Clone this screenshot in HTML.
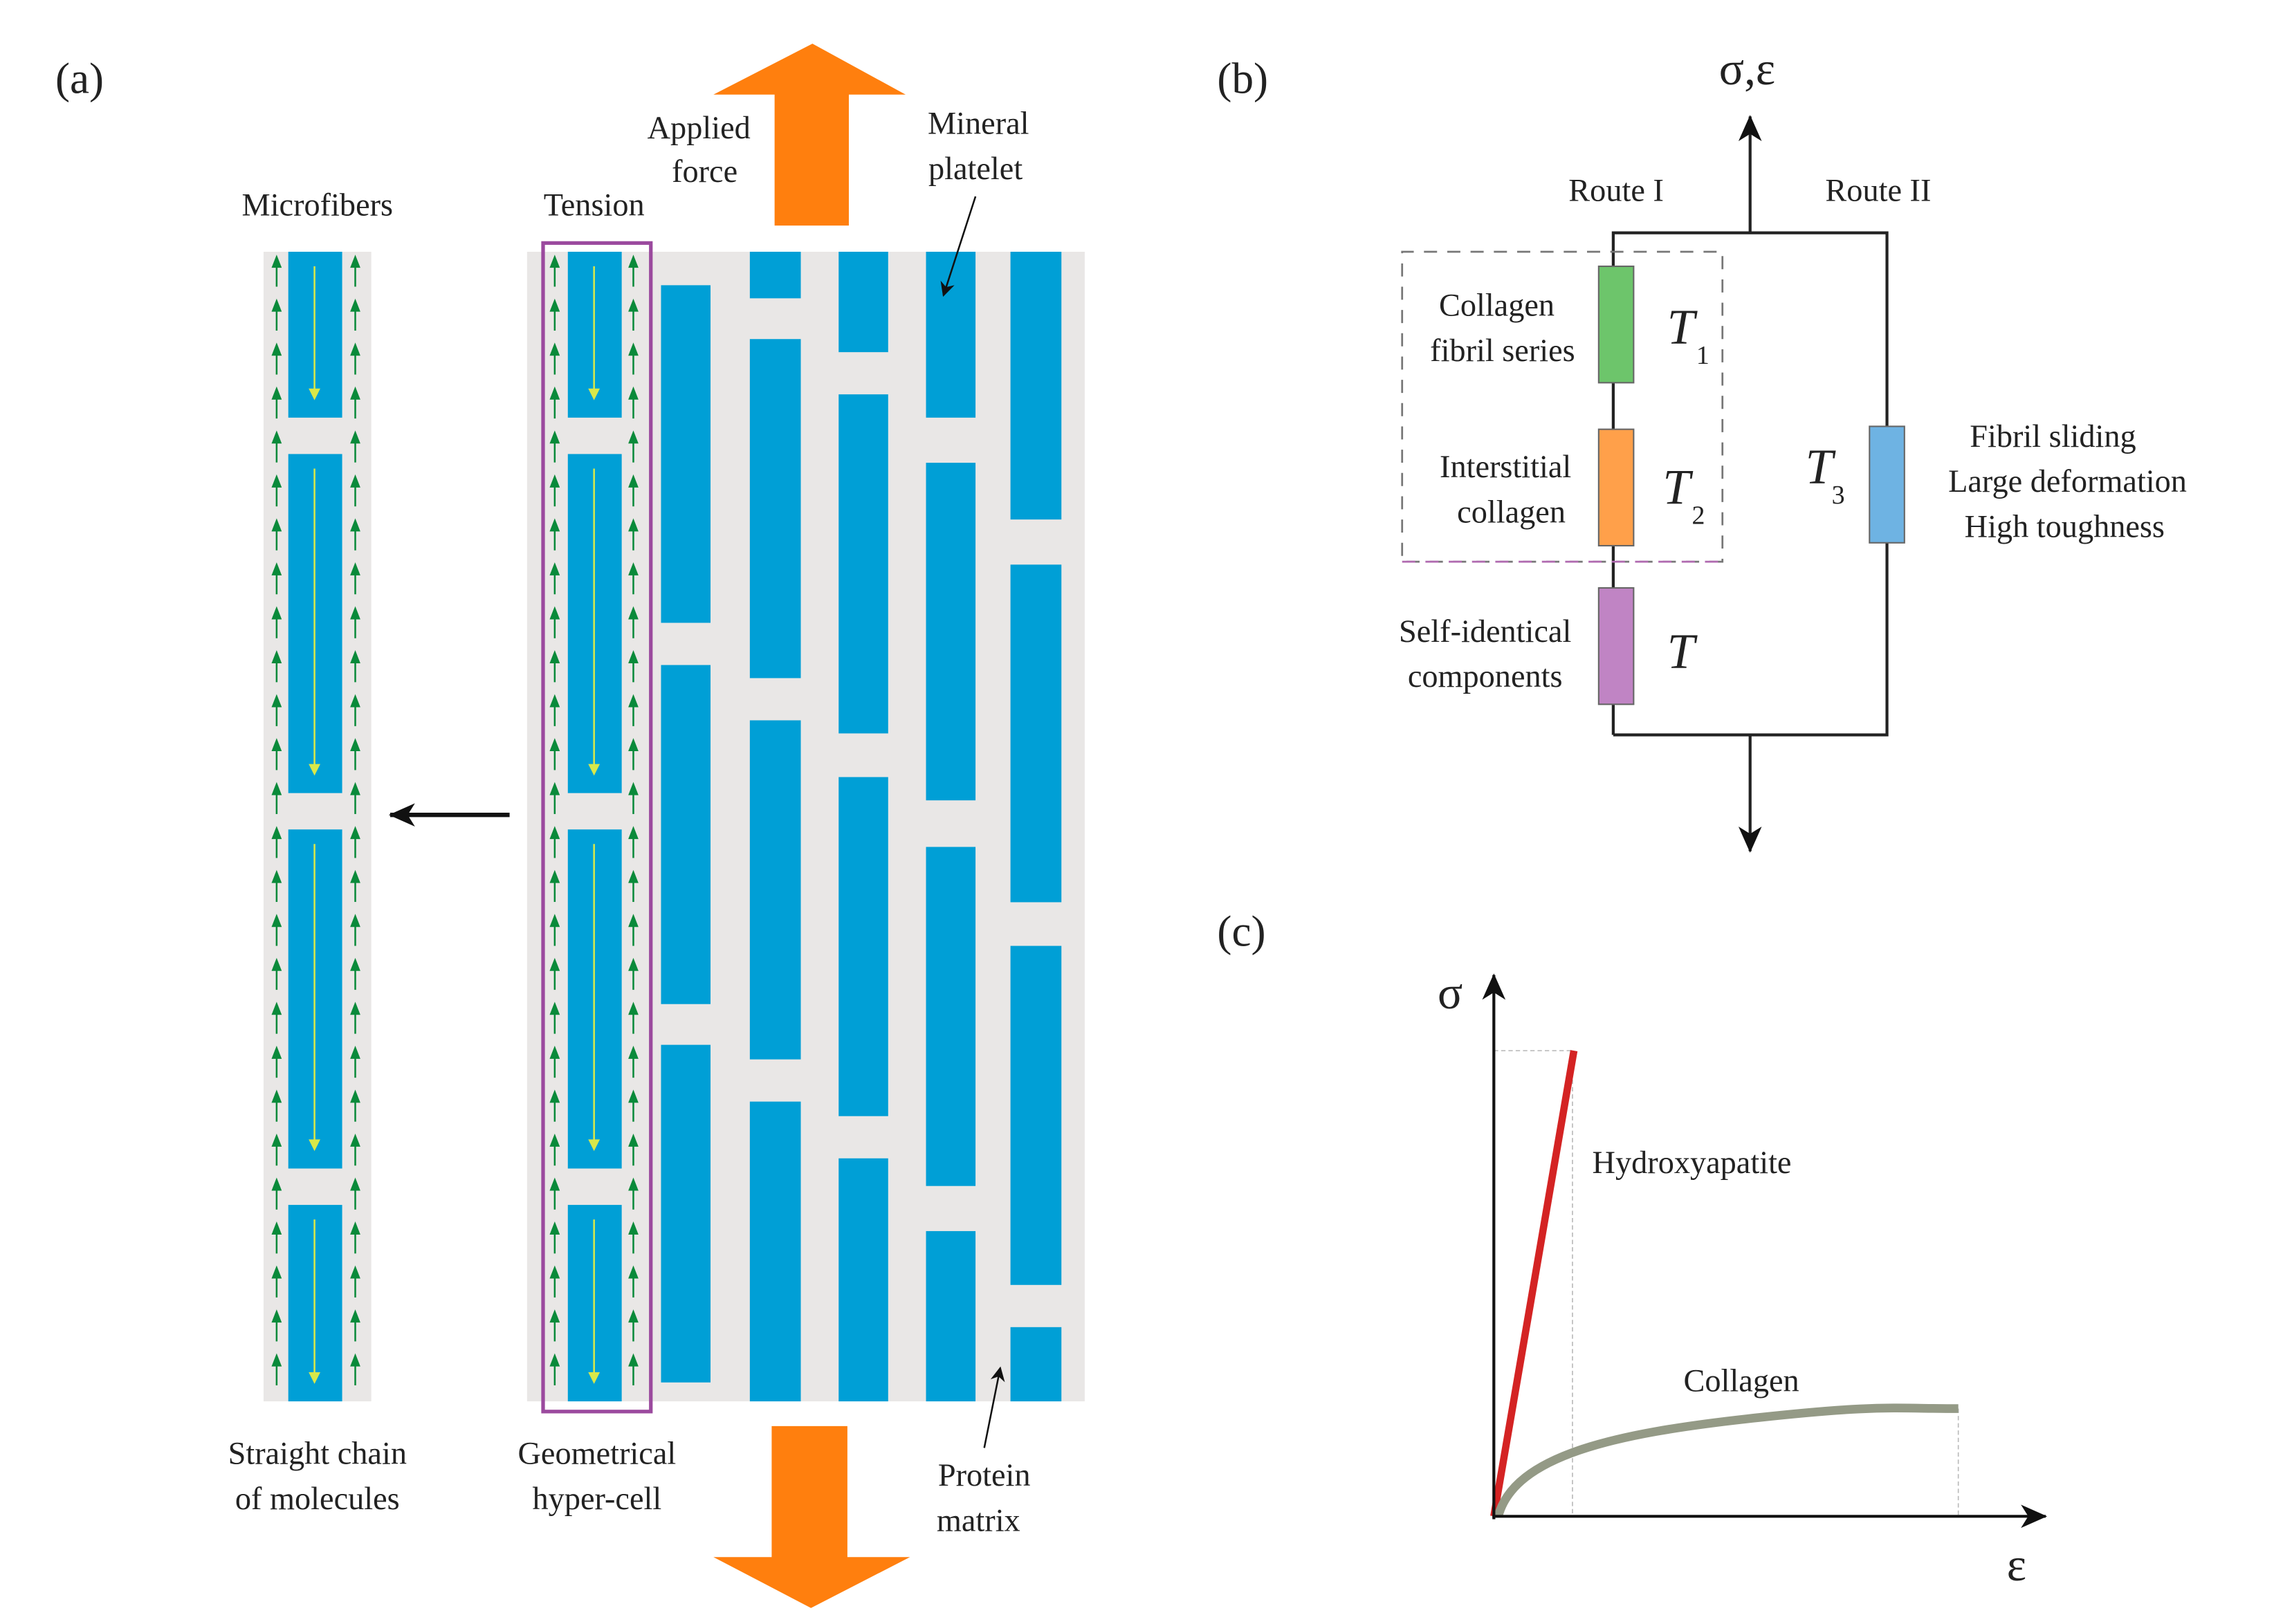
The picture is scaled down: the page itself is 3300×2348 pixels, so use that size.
<!DOCTYPE html>
<html><head><meta charset="utf-8"><style>
html,body{margin:0;padding:0;background:#fff;}
svg{display:block;}
text{font-family:"Liberation Serif","DejaVu Serif","Times New Roman",serif;fill:#222;}
</style></head><body>
<svg id="s" width="3300" height="2348" viewBox="0 0 1568 1116" preserveAspectRatio="none" xmlns="http://www.w3.org/2000/svg" font-family="Liberation Serif, DejaVu Serif, serif">
<defs>
<marker id="ka" markerWidth="10" markerHeight="10" refX="9" refY="5" orient="auto" markerUnits="userSpaceOnUse"><path d="M0,0 L10,5 L0,10 L3,5 z" fill="#111"/></marker>
<marker id="kb" markerWidth="18" markerHeight="16" refX="17" refY="8" orient="auto" markerUnits="userSpaceOnUse"><path d="M0,0 L18,8 L0,16 L5,8 z" fill="#111"/></marker>
</defs>
<rect width="1568" height="1116" fill="#fff"/>
<text x="38" y="64" font-size="30">(a)</text>
<text x="836" y="64" font-size="30">(b)</text>
<text x="836" y="650" font-size="30">(c)</text>

<rect x="181" y="173" width="74" height="790" fill="#e9e7e6"/>
<g fill="#009fd6">
<rect x="198" y="173" width="37" height="114"/><rect x="198" y="312" width="37" height="233"/>
<rect x="198" y="570" width="37" height="233"/><rect x="198" y="828" width="37" height="135"/>
</g>
<rect x="362" y="173" width="383" height="790" fill="#e9e7e6"/>
<g fill="#009fd6">
<rect x="390" y="173" width="37" height="114"/><rect x="390" y="312" width="37" height="233"/>
<rect x="390" y="570" width="37" height="233"/><rect x="390" y="828" width="37" height="135"/>
<rect x="454" y="196" width="34" height="232"/><rect x="454" y="457" width="34" height="233"/><rect x="454" y="718" width="34" height="232"/>
<rect x="515" y="173" width="35" height="32"/><rect x="515" y="233" width="35" height="233"/><rect x="515" y="495" width="35" height="233"/><rect x="515" y="757" width="35" height="206"/>
<rect x="576" y="173" width="34" height="69"/><rect x="576" y="271" width="34" height="233"/><rect x="576" y="534" width="34" height="233"/><rect x="576" y="796" width="34" height="167"/>
<rect x="636" y="173" width="34" height="114"/><rect x="636" y="318" width="34" height="232"/><rect x="636" y="582" width="34" height="233"/><rect x="636" y="846" width="34" height="117"/>
<rect x="694" y="173" width="35" height="184"/><rect x="694" y="388" width="35" height="232"/><rect x="694" y="650" width="35" height="233"/><rect x="694" y="912" width="35" height="51"/>
</g>
<rect x="373" y="167" width="74" height="803" fill="none" stroke="#9b4a9e" stroke-width="2.5"/>
<g id="arrows"></g>

<path d="M532,155 L532,65 L490,65 L558,30 L622,65 L583,65 L583,155 Z" fill="#ff7f0e"/>
<path d="M530,980 L582,980 L582,1070 L625,1070 L557,1105 L490,1070 L530,1070 Z" fill="#ff7f0e"/>

<g font-size="22" text-anchor="middle">
<text x="480" y="95">Applied</text><text x="484" y="125">force</text>
<text x="672" y="92">Mineral</text><text x="670" y="123">platelet</text>
<text x="218" y="148">Microfibers</text><text x="408" y="148">Tension</text>
<text x="218" y="1006">Straight chain</text><text x="218" y="1037">of molecules</text>
<text x="410" y="1006">Geometrical</text><text x="410" y="1037">hyper-cell</text>
<text x="676" y="1021">Protein</text><text x="672" y="1052">matrix</text>
</g>
<line x1="670" y1="135" x2="648" y2="203" stroke="#111" stroke-width="1.2" marker-end="url(#ka)"/>
<line x1="676" y1="995" x2="687" y2="940" stroke="#111" stroke-width="1.2" marker-end="url(#ka)"/>
<line x1="350" y1="560" x2="268" y2="560" stroke="#111" stroke-width="3" marker-end="url(#kb)"/>

<text x="1200" y="58" font-size="32" text-anchor="middle">σ,ε</text>
<g stroke="#222" stroke-width="2" fill="none">
<line x1="1202" y1="160" x2="1202" y2="80" marker-end="url(#kb)"/>
<polyline points="1108,505 1108,160 1296,160 1296,505 1108,505"/>
<line x1="1202" y1="505" x2="1202" y2="585" marker-end="url(#kb)"/>
</g>
<text x="1110" y="138" font-size="22" text-anchor="middle">Route I</text>
<text x="1290" y="138" font-size="22" text-anchor="middle">Route II</text>
<path d="M1183,386 L963,386 L963,173 L1183,173 Z" fill="none" stroke="#777" stroke-width="1.3" stroke-dasharray="9,7"/>
<line x1="963" y1="386" x2="1183" y2="386" stroke="#b06ab0" stroke-width="1.3" stroke-dasharray="9,7"/>
<g stroke="#666" stroke-width="1">
<rect x="1098" y="183" width="24" height="80" fill="#6dc56b"/>
<rect x="1098" y="295" width="24" height="80" fill="#ffa04a"/>
<rect x="1098" y="404" width="24" height="80" fill="#c084c4"/>
<rect x="1284" y="293" width="24" height="80" fill="#6eb3e3"/>
</g>
<g font-size="22" text-anchor="middle">
<text x="1028" y="217">Collagen</text><text x="1032" y="248">fibril series</text>
<text x="1034" y="328">Interstitial</text><text x="1038" y="359">collagen</text>
<text x="1020" y="441">Self-identical</text><text x="1020" y="472">components</text>
<text x="1410" y="307">Fibril sliding</text><text x="1420" y="338">Large deformation</text><text x="1418" y="369">High toughness</text>
</g>
<g font-size="34" font-style="italic">
<text x="1145" y="236">T</text><text x="1142" y="346">T</text><text x="1145" y="459">T</text><text x="1240" y="332">T</text>
</g>
<g font-size="18">
<text x="1165" y="250">1</text><text x="1162" y="360">2</text><text x="1258" y="346">3</text>
</g>

<g stroke="#bbb" stroke-width="0.8" stroke-dasharray="3,2" fill="none">
<line x1="1026" y1="722" x2="1080" y2="722"/><line x1="1080" y1="722" x2="1080" y2="1042"/><line x1="1345" y1="968" x2="1345" y2="1042"/>
</g>
<line x1="1026" y1="1042" x2="1081" y2="722" stroke="#d42323" stroke-width="5"/>
<path d="M1029,1042 C1040,1000 1110,985 1200,975 S1300,968 1345,968" fill="none" stroke="#949a86" stroke-width="6"/>
<g stroke="#111" stroke-width="2" fill="none">
<line x1="1026" y1="1044" x2="1026" y2="670" marker-end="url(#kb)"/>
<line x1="1025" y1="1042" x2="1405" y2="1042" marker-end="url(#kb)"/>
</g>
<text x="996" y="693" font-size="32" text-anchor="middle">σ</text>
<text x="1385" y="1086" font-size="32" text-anchor="middle">ε</text>
<text x="1162" y="806" font-size="22" text-anchor="middle">Hydroxyapatite</text>
<text x="1196" y="956" font-size="22" text-anchor="middle">Collagen</text>
</svg>
<script>
var g=document.getElementById('arrows'),h='';
var xs=[190,244,381,435];
for(var i=0;i<26;i++){var y=175+i*30.2;
 xs.forEach(function(x){h+='<line x1="'+x+'" y1="'+(y+22)+'" x2="'+x+'" y2="'+(y+4)+'" stroke="#0a8a3a" stroke-width="1.2"/><path d="M'+(x-3.5)+','+(y+9)+' L'+x+','+y+' L'+(x+3.5)+','+(y+9)+' z" fill="#0a8a3a"/>';});}
var bars=[[173,287],[312,545],[570,803],[828,963]];
[216,408].forEach(function(x){bars.forEach(function(b){var t=b[0]+10,e=b[1]-12;
 h+='<line x1="'+x+'" y1="'+t+'" x2="'+x+'" y2="'+(e-6)+'" stroke="#d8e84a" stroke-width="1.2"/><path d="M'+(x-4)+','+(e-8)+' L'+x+','+e+' L'+(x+4)+','+(e-8)+' z" fill="#d8e84a"/>';});});
g.innerHTML=h;
</script>
</body></html>
